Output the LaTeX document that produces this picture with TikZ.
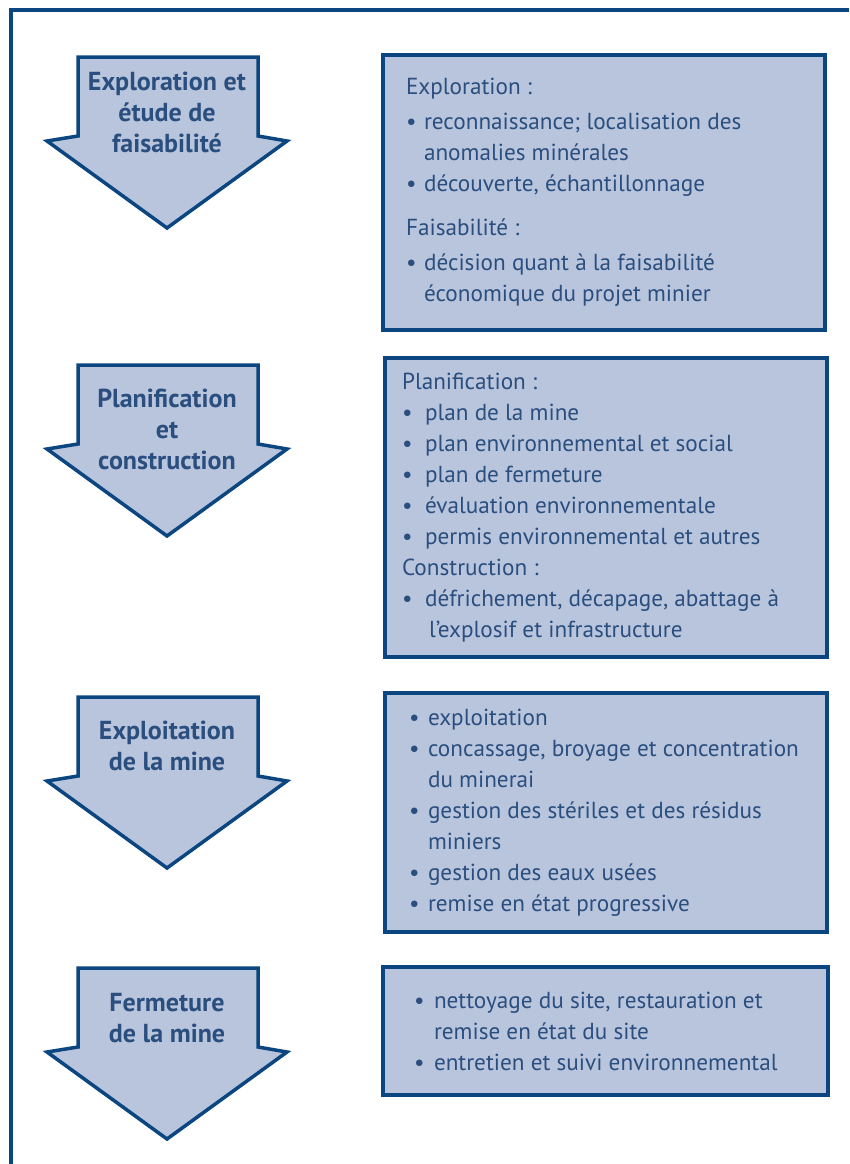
\documentclass[tikz,border=0pt]{standalone}
\usepackage{fontspec}
\setmainfont{PT Sans}
\usetikzlibrary{positioning}
\definecolor{ink}{HTML}{2A4E7E}
\definecolor{deepblue}{HTML}{0B4680}
\definecolor{paleblue}{HTML}{B9C5DD}
\newdimen\pxu \pxu=0.025cm
\newcommand{\itm}[1]{\makebox[#1\pxu][l]{\textbullet}}
\newcommand{\cnt}[1]{\hspace*{#1\pxu}}
\tikzset{
  frameline/.style={draw=deepblue, line width=3.5\pxu},
  phase/.style={draw=deepblue, fill=paleblue, line width=3.5\pxu, line join=miter},
  phaselab/.style={font=\fontsize{18.5}{22}\selectfont\bfseries, text=ink, align=center, inner sep=0pt},
  infobox/.style={draw=deepblue, fill=paleblue, line width=4.5\pxu, inner sep=0pt},
  boxtext/.style={font=\fontsize{16.5}{22}\selectfont, text=ink, align=left, inner sep=0pt, anchor=west},
}

\begin{document}
\begin{tikzpicture}[x=0.025cm, y=-0.025cm]
  \useasboundingbox (0,0) rectangle (849,1164);
  % outer frame, cut at the right and at the bottom
  \draw[frameline] (849,10) -- (11,10) -- (11,1164);

  % phase arrows
  \foreach \t in {57, 365, 697, 968} {
    \draw[phase] (78,\t) -- (258,\t) -- (258,\t+79) -- (287,\t+84) -- (167,\t+171)
      -- (47,\t+84) -- (78,\t+79) -- cycle;
  }
  \node[phaselab] (explab) at (167,112) {Exploration et\\étude de\\faisabilité};
  \node[phaselab] (planlab) at (167,429) {Planification\\et\\construction};
  \node[phaselab] (exploitlab) at (167,746) {Exploitation\\de la mine};
  \node[phaselab] (fermlab) at (167,1018) {Fermeture\\de la mine};

  % detail boxes
  \node[infobox, minimum width=442\pxu, minimum height=275\pxu] (explbox) at (604,192.5) {};
  \node[infobox, minimum width=442\pxu, minimum height=299\pxu] (planbox) at (606,507.5) {};
  \node[infobox, minimum width=442\pxu, minimum height=239\pxu] (exploitbox) at (606,812.5) {};
  \node[infobox, minimum width=445\pxu, minimum height=128\pxu] (fermbox) at (605.5,1031) {};

  \node[boxtext] (expltxt) at ([xshift=25\pxu]explbox.west) {%
    Exploration :\\[4\pxu]
    \itm{18}reconnaissance; localisation des\\
    \cnt{18}anomalies minérales\\
    \itm{18}découverte, échantillonnage\\[13\pxu]
    Faisabilité :\\[4\pxu]
    \itm{18}décision quant à la faisabilité\\
    \cnt{18}économique du projet minier};
  \node[boxtext] (plantxt) at ([xshift=19\pxu]planbox.west) {%
    Planification :\\
    \itm{23}plan de la mine\\
    \itm{23}plan environnemental et social\\
    \itm{23}plan de fermeture\\
    \itm{23}évaluation environnementale\\
    \itm{23}permis environnemental et autres\\
    Construction :\\
    \itm{23}défrichement, décapage, abattage à\\
    \cnt{27}l’explosif et infrastructure};
  \node[boxtext] (exploittxt) at ([xshift=26\pxu]exploitbox.west) {%
    \itm{19}exploitation\\
    \itm{19}concassage, broyage et concentration\\
    \cnt{19}du minerai\\
    \itm{19}gestion des stériles et des résidus\\
    \cnt{19}miniers\\
    \itm{19}gestion des eaux usées\\
    \itm{19}remise en état progressive};
  \node[boxtext] (fermtxt) at ([xshift=33\pxu]fermbox.west) {%
    \itm{20}nettoyage du site, restauration et\\
    \cnt{20}remise en état du site\\
    \itm{20}entretien et suivi environnemental};
\end{tikzpicture}
\end{document}
